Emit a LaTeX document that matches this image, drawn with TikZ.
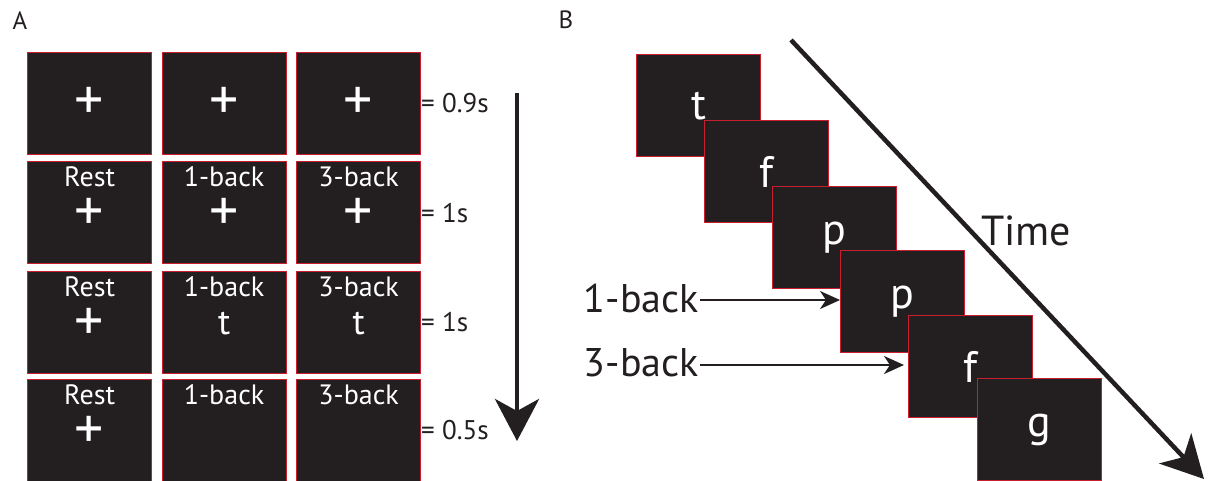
\documentclass[tikz,border=0pt]{standalone}
\usepackage{fontspec}
\setmainfont{PT Sans}
\usetikzlibrary{arrows.meta}
\definecolor{ink}{RGB}{35,31,32}
\definecolor{edge}{RGB}{200,30,45}
\tikzset{
  scr/.style={draw=edge, line width=1.2pt, fill=ink, minimum width=124pt, minimum height=102pt, inner sep=0pt, anchor=north west},
  lab/.style={text=white, inner sep=0pt, font=\fontsize{28}{30}\selectfont},
  sym/.style={text=white, inner sep=0pt, font=\fontsize{58}{60}\selectfont},
  tletter/.style={text=white, inner sep=0pt, font=\fontsize{36}{38}\selectfont},
  bletter/.style={text=white, inner sep=0pt, font=\fontsize{44}{46}\selectfont},
  dur/.style={text=ink, inner sep=0pt, anchor=west, font=\fontsize{27}{29}\selectfont},
  panel/.style={text=ink, inner sep=0pt, font=\fontsize{25}{27}\selectfont},
  blab/.style={text=ink, inner sep=1pt, anchor=east, font=\fontsize{40}{42}\selectfont},
  bigarrow/.style={draw=ink, line width=4.5pt, -{Stealth[length=42pt,width=44pt,inset=12pt]}},
  smallarrow/.style={draw=ink, line width=2pt, -{Stealth[length=20pt,width=18pt,inset=6pt]}}
}
\begin{document}
\begin{tikzpicture}[x=1pt,y=-1pt]
\useasboundingbox[fill=white] (0,0) rectangle (1215,481);
% Panel A
\node[panel] (pA) at (20,21) {A};
\foreach \r/\t in {1/52,2/161,3/271,4/379}{
  \node[scr] (a\r1) at (27,\t) {};
  \node[scr] (a\r2) at (161.5,\t) {};
  \node[scr] (a\r3) at (296,\t) {};
}
% row 1
\node[sym] (s11) at (a11.center) {+};
\node[sym] (s12) at (a12.center) {+};
\node[sym] (s13) at (a13.center) {+};
% rows 2-4 labels
\foreach \r in {2,3,4}{
  \node[lab] (l\r1) at ([yshift=-16pt]a\r1.north) {Rest};
  \node[lab] (l\r2) at ([yshift=-16pt]a\r2.north) {1-back};
  \node[lab] (l\r3) at ([yshift=-16pt]a\r3.north) {3-back};
  \node[sym] (s\r1) at ([yshift=-53pt]a\r1.north) {+};
}
\node[sym] (s22) at ([yshift=-53pt]a22.north) {+};
\node[sym] (s23) at ([yshift=-53pt]a23.north) {+};
\node[tletter] (s32) at ([yshift=-53pt]a32.north) {t};
\node[tletter] (s33) at ([yshift=-53pt]a33.north) {t};
% durations
\node[dur] (d1) at (421,103) {= 0.9s};
\node[dur] (d2) at (421,213) {= 1s};
\node[dur] (d3) at (421,322) {= 1s};
\node[dur] (d4) at (421,430) {= 0.5s};
% time arrow A
\coordinate (ta0) at (517,93);
\coordinate (ta1) at (517,441);
\draw[bigarrow] (ta0) -- (ta1);
% Panel B
\node[panel] (pB) at (566,20) {B};
\node[scr] (b1) at (636,54) {};
\node[bletter] (c1) at (b1.center) {t};
\node[scr] (b2) at (704,120) {};
\node[bletter] (c2) at (b2.center) {f};
\node[scr] (b3) at (772,186) {};
\node[bletter] (c3) at (b3.center) {p};
\node[scr] (b4) at (840,250) {};
\node[bletter] (c4) at (b4.center) {p};
\node[scr] (b5) at (908,315) {};
\node[bletter] (c5) at (b5.center) {f};
\node[scr] (b6) at (977,378) {};
\node[bletter] (c6) at (b6.center) {g};
% Time arrow B
\coordinate (tb0) at (791,40);
\coordinate (tb1) at (1204,479);
\draw[bigarrow] (tb0) -- (tb1);
\node[text=ink, inner sep=0pt, font=\fontsize{42}{44}\selectfont, anchor=west] (time) at (981,231) {Time};
% n-back labels
\node[blab] (n1) at (700,298) {1-back};
\node[blab] (n3) at (700,363) {3-back};
\draw[smallarrow] ([yshift=-2pt]n1.east) -- ([yshift=-2pt]b4.west |- n1.east);
\draw[smallarrow] ([yshift=-2pt]n3.east) -- ([xshift=-4pt,yshift=-2pt]b5.west |- n3.east);
\end{tikzpicture}
\end{document}
